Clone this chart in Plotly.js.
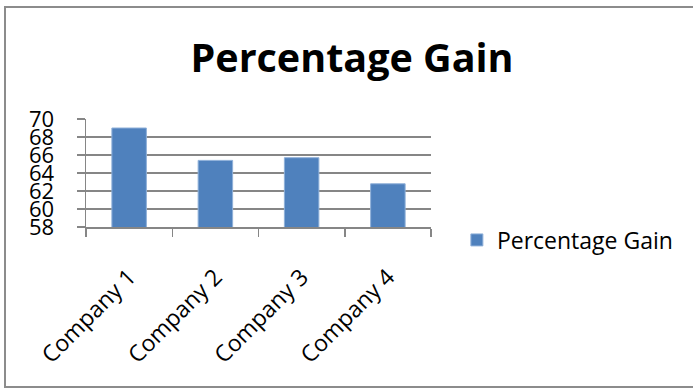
<!DOCTYPE html>
<html>
<head>
<meta charset="utf-8">
<script src="https://cdn.plot.ly/plotly-3.0.1.min.js"></script>
<style>
html,body{margin:0;padding:0;background:#fff;}
#frame{position:absolute;left:4px;top:6px;width:700px;height:382px;border-left:2px solid #8c8c8c;border-top:2px solid #8c8c8c;border-bottom:2px solid #8c8c8c;box-sizing:border-box;pointer-events:none;z-index:5;}
#chart{position:absolute;left:0;top:0;width:693px;height:390px;}
</style>
</head>
<body>
<div id="chart"></div>
<div id="frame"></div>
<script>
var categories = ["Company 1", "Company 2", "Company 3", "Company 4"];
var values = [69.0, 65.4, 65.7, 62.8];
var seriesName = "Percentage Gain";
var chartTitle = "Percentage Gain";
var yTicks = [58, 60, 62, 64, 66, 68, 70];

var font = "'Open Sans', sans-serif";
var data = [{
  type: 'bar',
  x: categories,
  y: values,
  name: seriesName,
  marker: {color: '#4F81BD', line: {color: '#8fb0d9', width: 1}},
  showlegend: true
}];
var layout = {
  width: 693, height: 390,
  margin: {l: 86, r: 262, t: 119, b: 163},
  paper_bgcolor: '#fff', plot_bgcolor: '#fff',
  font: {family: font, color: '#000'},
  title: {text: chartTitle, font: {family: font, size: 39.5, color: '#000', weight: 'bold'}, x: 0.508, xanchor: 'center', y: 0.85, yanchor: 'middle'},
  bargap: 0.6,
  xaxis: {
    type: 'category',
    showline: true, linecolor: '#868686', linewidth: 1.5,
    ticks: 'outside', tickson: 'boundaries', ticklen: 8, tickcolor: '#868686', tickwidth: 1.5,
    tickangle: -45, tickfont: {size: 23, family: font}, ticklabelstandoff: 26, ticklabelshift: 0,
    showgrid: false, fixedrange: true
  },
  yaxis: {
    range: [58, 70], tickvals: yTicks, ticktext: yTicks.map(String),
    showline: true, linecolor: '#868686', linewidth: 1.5,
    ticks: 'outside', ticklen: 8, tickcolor: '#868686', tickwidth: 1.5,
    showgrid: true, gridcolor: '#868686', gridwidth: 1.5,
    tickfont: {size: 22, family: font}, ticklabelstandoff: 18,
    zeroline: false, fixedrange: true
  },
  legend: {x: 1.075, xanchor: 'left', y: -0.12, yanchor: 'middle', font: {size: 23, family: font}, itemwidth: 30, bgcolor: 'rgba(0,0,0,0)'}
};
Plotly.newPlot('chart', data, layout, {displayModeBar: false, staticPlot: true});
</script>
</body>
</html>
